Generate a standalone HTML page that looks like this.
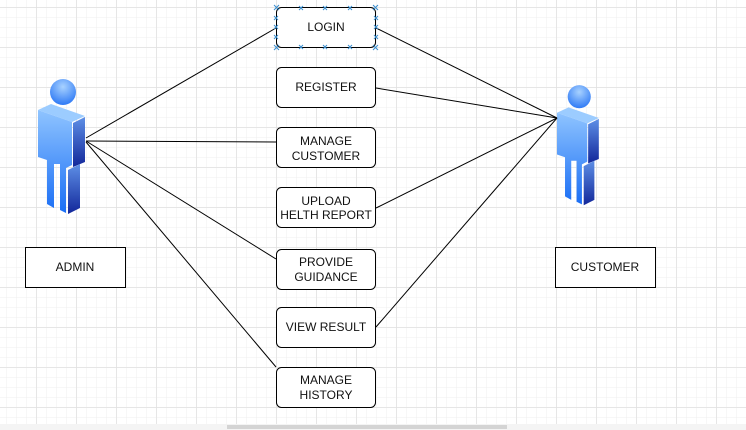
<!DOCTYPE html>
<html><head><style>
html,body{margin:0;padding:0;background:#fff;}
svg{display:block;}
text{font-family:"Liberation Sans",sans-serif;font-size:12px;fill:#111;}
</style></head><body>
<svg width="746" height="430" viewBox="0 0 746 430" xmlns="http://www.w3.org/2000/svg">
<defs>
<pattern id="g1" width="10" height="10" patternUnits="userSpaceOnUse" x="6" y="7">
<path d="M0 0H10M0 0V10" stroke="#efefef" stroke-width="1" fill="none"/>
</pattern>
<pattern id="g2" width="40" height="40" patternUnits="userSpaceOnUse" x="36.5" y="7.5">
<path d="M0 0H40M0 0V40" stroke="#dedede" stroke-width="1" fill="none"/>
</pattern>
<linearGradient id="fr" x1="0" y1="0" x2="0" y2="1"><stop offset="0" stop-color="#8fc4ff"/><stop offset="1" stop-color="#1a6ef5"/></linearGradient>
<linearGradient id="sd" x1="0" y1="0" x2="0" y2="1"><stop offset="0" stop-color="#5e8fe6"/><stop offset="1" stop-color="#12279a"/></linearGradient>
<radialGradient id="hd" cx="0.5" cy="0.3" r="0.7"><stop offset="0" stop-color="#a8d2ff"/><stop offset="1" stop-color="#2f7af5"/></radialGradient>
<g id="fig">
<circle cx="25" cy="12" r="13" fill="url(#hd)"/>
<polygon points="0,30 13,24 47,36 34,42" fill="#9cccff"/>
<polygon points="0,30 34,42 34,85 28,88 28,133 22,130 22,84 16,84 16,128 9,124 9,80 0,77" fill="url(#fr)"/>
<polygon points="35,43 47,37 47,82 35,87" fill="url(#sd)"/>
<polygon points="30,90 42,84 42,128 30,134" fill="url(#sd)"/>
</g>
</defs>
<rect width="746" height="430" fill="#fff"/>
<rect width="746" height="430" fill="url(#g1)"/>
<rect width="746" height="430" fill="url(#g2)"/>
<use href="#fig" transform="translate(38,80)"/>
<use href="#fig" transform="translate(557,86) scale(0.89,0.89)"/>
<g stroke="#000" stroke-width="1" fill="none">
<line x1="86" y1="138" x2="276" y2="28"/>
<line x1="86" y1="141" x2="276" y2="142"/>
<line x1="86" y1="141" x2="276" y2="259"/>
<line x1="86" y1="142" x2="276" y2="367"/>
<line x1="557" y1="118" x2="376" y2="28"/>
<line x1="557" y1="118" x2="376" y2="88"/>
<line x1="557" y1="118" x2="376" y2="208"/>
<line x1="557" y1="118" x2="376" y2="327"/>
</g>
<g stroke="#000" stroke-width="1" fill="#fff">
<rect x="276.5" y="7.5" width="99" height="40" rx="5"/>
<rect x="276.5" y="67.5" width="99" height="40" rx="5"/>
<rect x="276.5" y="127.5" width="99" height="40" rx="5"/>
<rect x="276.5" y="187.5" width="99" height="40" rx="5"/>
<rect x="276.5" y="249.5" width="99" height="40" rx="5"/>
<rect x="276.5" y="307.5" width="99" height="40" rx="5"/>
<rect x="276.5" y="367.5" width="99" height="40" rx="5"/>
<rect x="25.5" y="247.5" width="100" height="40"/>
<rect x="555.5" y="247.5" width="100" height="40"/>
</g>
<g fill="none" stroke="#3a8fd0" stroke-width="1">
<path d="M274 5l5 5M279 5l-5 5M373 5l5 5M378 5l-5 5M274 45l5 5M279 45l-5 5M373 45l5 5M378 45l-5 5"/>
<path d="M299 6l4 4M303 6l-4 4M323 6l4 4M327 6l-4 4M348 6l4 4M352 6l-4 4M299 45l4 4M303 45l-4 4M323 45l4 4M327 45l-4 4M348 45l4 4M352 45l-4 4"/>
<path d="M274 16l4 4M278 16l-4 4M274 25l4 4M278 25l-4 4M274 35l4 4M278 35l-4 4M374 16l4 4M378 16l-4 4M374 25l4 4M378 25l-4 4M374 35l4 4M378 35l-4 4"/>
</g>
<g text-anchor="middle">
<text x="326" y="31">LOGIN</text>
<text x="326" y="91">REGISTER</text>
<text x="326" y="145">MANAGE</text><text x="326" y="160">CUSTOMER</text>
<text x="326" y="205">UPLOAD</text><text x="326" y="219">HELTH REPORT</text>
<text x="326" y="266">PROVIDE</text><text x="326" y="281">GUIDANCE</text>
<text x="326" y="331">VIEW RESULT</text>
<text x="326" y="384">MANAGE</text><text x="326" y="399">HISTORY</text>
<text x="75" y="271">ADMIN</text>
<text x="605" y="271">CUSTOMER</text>
</g>
<rect x="0" y="424" width="746" height="6" fill="#f4f4f4"/>
<rect x="227" y="425" width="280" height="4" fill="#d4d4d4"/>
</svg>
</body></html>
